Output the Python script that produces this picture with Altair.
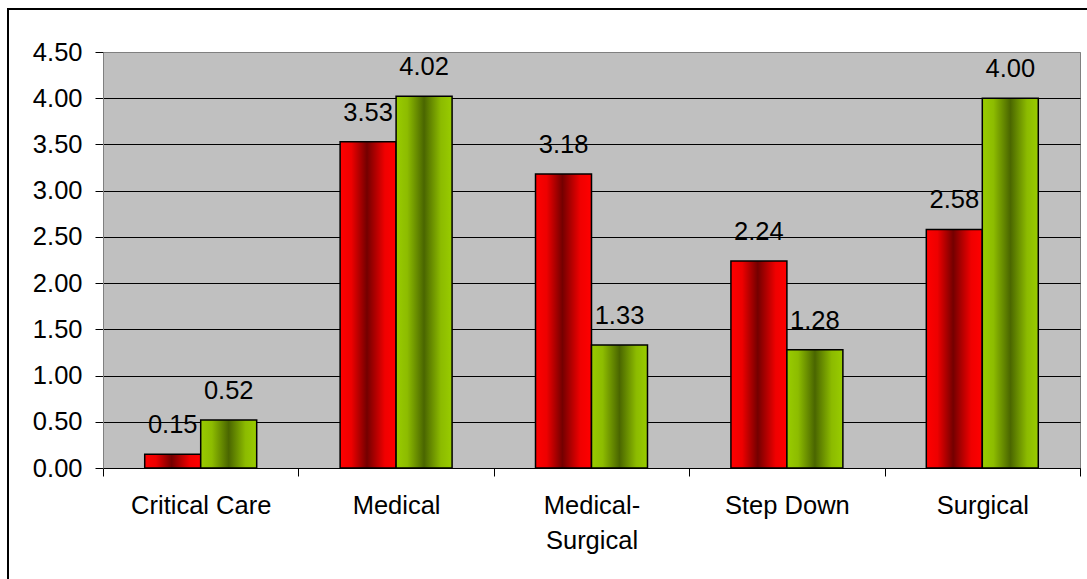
import altair as alt
import pandas as pd

FONT = "Liberation Sans"
FONT_SIZE = 25.5

# Nursing units along the category axis
units = ["Critical Care", "Medical", "Medical-Surgical", "Step Down", "Surgical"]
series_names = ["Series1", "Series2"]
# Values per unit for each series
series1_values = [0.15, 3.53, 3.18, 2.24, 2.58]
series2_values = [0.52, 4.02, 1.33, 1.28, 4.00]
y_ticks = [0, 0.5, 1.0, 1.5, 2.0, 2.5, 3.0, 3.5, 4.0, 4.5]

rows = []
for u, a, b in zip(units, series1_values, series2_values):
    rows.append({"unit": u, "series": series_names[0], "value": a})
    rows.append({"unit": u, "series": series_names[1], "value": b})
df = pd.DataFrame(rows)


def gradient(stops):
    return alt.LinearGradient(
        gradient="linear",
        stops=[alt.GradientStop(offset=o, color=c) for o, c in stops],
        x1=0, x2=1, y1=0, y2=0,
    )


red_fill = gradient([(0, "#FF0000"), (0.2, "#EE0000"), (0.48, "#740000"),
                     (0.8, "#F00000"), (1, "#FF0000")])
green_fill = gradient([(0, "#99CC00"), (0.2, "#8DBC00"), (0.5, "#4A6600"),
                       (0.8, "#8CBB00"), (1, "#99CC00")])

x_enc = alt.X(
    "unit:N",
    sort=units,
    scale=alt.Scale(paddingInner=0, paddingOuter=0),
    axis=alt.Axis(
        title=None,
        labelAngle=0,
        tickBand="extent",
        tickSize=8,
        labelPadding=17,
        labelLineHeight=35,
        domainColor="black",
        grid=False,
        labelExpr="datum.label == 'Medical-Surgical' ? ['Medical-', 'Surgical'] : datum.label",
    ),
)
xoff_enc = alt.XOffset(
    "series:N", sort=series_names,
    scale=alt.Scale(paddingInner=0, paddingOuter=0.745),
)
y_enc = alt.Y(
    "value:Q",
    scale=alt.Scale(domain=[0, 4.5], nice=False),
    axis=alt.Axis(
        title=None,
        values=y_ticks,
        format=".2f",
        tickSize=8,
        labelPadding=13,
        domainColor="#808080",
        gridColor={"condition": {"test": "datum.value >= 4.5", "value": "#808080"},
                   "value": "black"},
        gridWidth=1,
    ),
)

base = alt.Chart(df).encode(x=x_enc, xOffset=xoff_enc, y=y_enc)

bars1 = base.transform_filter(alt.datum.series == series_names[0]).mark_bar(
    fill=red_fill, stroke="black", strokeWidth=1.5
)
bars2 = base.transform_filter(alt.datum.series == series_names[1]).mark_bar(
    fill=green_fill, stroke="black", strokeWidth=1.5
)
labels = base.mark_text(
    baseline="alphabetic", dy=-21, fontSize=FONT_SIZE, font=FONT, color="black"
).encode(text=alt.Text("value:Q", format=".2f"))

frame = alt.Chart(pd.DataFrame({"k": [0]})).mark_rect(
    filled=False, stroke="black", strokeWidth=2
).encode(
    x=alt.value(-95), x2=alt.value(1000), y=alt.value(-43), y2=alt.value(600)
)

chart = (
    alt.layer(bars1, bars2, labels, frame)
    .properties(
        width=977,
        height=416,
        padding={"left": 103, "top": 52, "right": 7, "bottom": 111},
        autosize=alt.AutoSizeParams(type="none"),
        background="white",
    )
    .configure_view(fill="#C0C0C0", stroke="#808080", strokeWidth=1)
    .configure_axis(
        labelFont=FONT, labelFontSize=FONT_SIZE, labelColor="black",
        tickColor="black", tickWidth=1,
    )
)

chart.save("out.html", embed_options={"renderer": "svg", "actions": False})
